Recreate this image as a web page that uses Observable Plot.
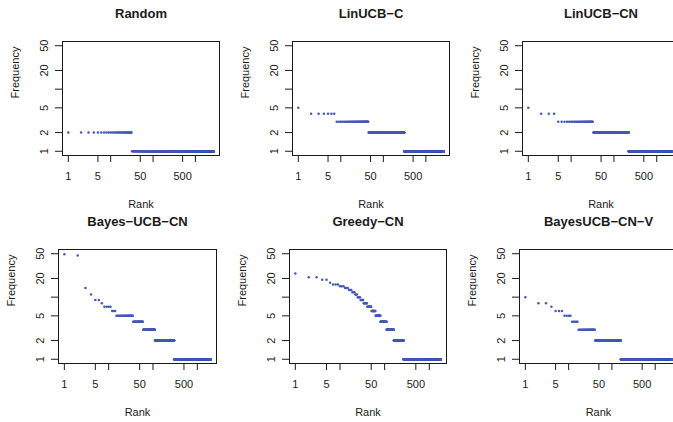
<!DOCTYPE html>
<html><head><meta charset="utf-8">
<script src="https://cdn.jsdelivr.net/npm/d3@7"></script>
<script src="https://cdn.jsdelivr.net/npm/@observablehq/plot@0.6"></script>
<style>
html,body{margin:0;padding:0;background:#fff;overflow:hidden;}
#chart{position:relative;width:673px;height:422px;overflow:hidden;background:#fff;}
#chart svg{position:absolute;}
</style></head><body><div id="chart"></div>
<script>
// ---- data: frequency levels and number of ranked items at each level ----
const titles = ["Random", "LinUCB\u2212C", "LinUCB\u2212CN", "Bayes\u2212UCB\u2212CN", "Greedy\u2212CN", "BayesUCB\u2212CN\u2212V"];

const randomFreq  = [2, 1];
const randomCount = [31, 2670];

const linucbCFreq  = [5, 4, 3, 2, 1];
const linucbCCount = [1, 6, 37, 266, 2310];

const linucbCNFreq  = [5, 4, 3, 2, 1];
const linucbCNCount = [1, 3, 28, 188, 2270];

const bayesUcbCNFreq  = [49, 47, 14, 11, 9, 8, 7, 6, 5, 4, 3, 2, 1];
const bayesUcbCNCount = [1, 1, 1, 1, 2, 1, 4, 3, 21, 24, 51, 190, 1700];

const greedyCNFreq  = [24, 21, 19, 17, 16, 15, 14, 13, 12, 11, 10, 9, 8, 7, 6, 5, 4, 3, 2, 1];
const greedyCNCount = [1, 2, 2, 1, 3, 3, 3, 3, 3, 3, 4, 5, 7, 10, 12, 18, 30, 50, 105, 1535];

const bayesUcbCNVFreq  = [10, 8, 7, 6, 5, 4, 3, 2, 1];
const bayesUcbCNVCount = [1, 2, 1, 3, 4, 5, 24, 120, 2240];

const xTicks = [1, 5, 10, 50, 100, 500, 1000];
const xTickLabels = [1, 5, 50, 500];
const yTicks = [1, 2, 5, 10, 20, 50];
const yTickLabels = [1, 2, 5, 20, 50];
const yLimits = [1, 50];
const xLabel = "Rank";
const yLabel = "Frequency";

// ---- build ----
const series = [
  [randomFreq, randomCount],
  [linucbCFreq, linucbCCount],
  [linucbCNFreq, linucbCNCount],
  [bayesUcbCNFreq, bayesUcbCNCount],
  [greedyCNFreq, greedyCNCount],
  [bayesUcbCNVFreq, bayesUcbCNVCount]
];

function toRanks(freq, count) {
  const out = [];
  let r = 1;
  freq.forEach((f, i) => { for (let k = 0; k < count[i]; k++) out.push({rank: r++, freq: f}); });
  return out;
}
// R-style 4% axis extension in log space
function logExtent(lo, hi) {
  const a = Math.log10(lo), b = Math.log10(hi), e = 0.04 * (b - a);
  return [10 ** (a - e), 10 ** (b + e)];
}

const layout = [
  {left: 0,     top: 0,   ml: 62, bw: 157},
  {left: 230,   top: 0,   ml: 62, bw: 157},
  {left: 460.3, top: 0,   ml: 62, bw: 157},
  {left: 0,     top: 208, ml: 58, bw: 158},
  {left: 230,   top: 208, ml: 59, bw: 157},
  {left: 460,   top: 208, ml: 59, bw: 158}
];

const chart = document.getElementById("chart");
const ink = "#1a1a1a";
const dotColor = "#4459b4";

series.forEach(([freq, count], i) => {
  const data = toRanks(freq, count);
  const n = data.length;
  const L = layout[i];
  const W = 240, H = 208;
  const svg = Plot.plot({
    width: W, height: H,
    marginLeft: L.ml, marginRight: W - L.ml - L.bw, marginTop: 41, marginBottom: 53,
    x: {type: "log", domain: logExtent(1, n)},
    y: {type: "log", domain: logExtent(yLimits[0], yLimits[1])},
    style: {fontFamily: "'Liberation Sans', Arial, sans-serif", fontSize: "11px", color: ink, background: "transparent", overflow: "visible"},
    marks: [
      Plot.dot(data, {x: "rank", y: "freq", r: 1.25, fill: dotColor, stroke: null}),
      Plot.frame({stroke: ink}),
      Plot.axisX({ticks: xTicks, tickSize: 7, tickFormat: () => "", label: null}),
      Plot.text(xTickLabels, {x: d => d, text: d => String(d), frameAnchor: "bottom", dy: 17, lineAnchor: "top"}),
      Plot.axisY({ticks: yTicks, tickSize: 7, tickRotate: -90, tickPadding: 8, label: null, tickFormat: d => yTickLabels.includes(d) ? String(d) : ""}),
      Plot.text([titles[i]], {text: d => d, frameAnchor: "top", dy: -24, lineAnchor: "bottom", fontWeight: "bold", fontSize: 13}),
      Plot.text([xLabel], {text: d => d, frameAnchor: "bottom", dy: 49, lineAnchor: "middle"}),
      Plot.text([yLabel], {text: d => d, frameAnchor: "left", dx: -47, rotate: -90, lineAnchor: "middle"})
    ]
  });
  svg.style.left = L.left + "px";
  svg.style.top = L.top + "px";
  chart.appendChild(svg);
});
</script></body></html>
